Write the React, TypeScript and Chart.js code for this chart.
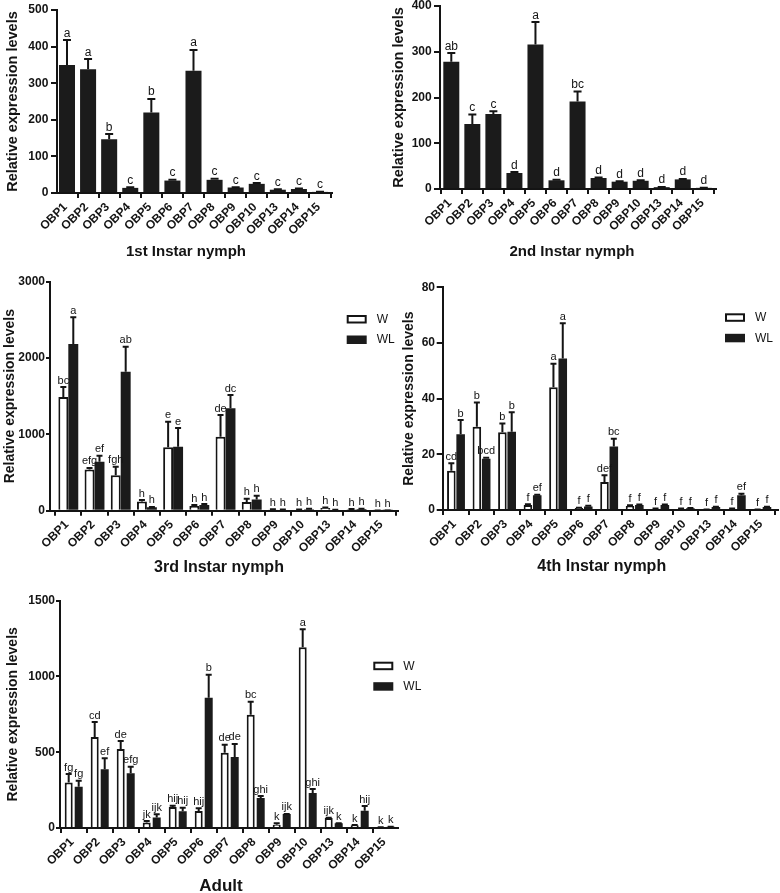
import React, { useEffect, useRef } from 'react';
import { Chart, registerables } from 'chart.js';

Chart.register(...registerables);

const FONT = '"Liberation Sans", Arial, Helvetica, sans-serif';
const INK = '#141414';
Chart.defaults.font.family = FONT;
Chart.defaults.color = INK;

const categories = ['OBP1', 'OBP2', 'OBP3', 'OBP4', 'OBP5', 'OBP6', 'OBP7', 'OBP8', 'OBP9', 'OBP10', 'OBP13', 'OBP14', 'OBP15'];

const nymph1Mean = [350, 338, 147, 14, 220, 34, 334, 36, 15, 25, 9, 11, 3];
const nymph1Se = [68, 28, 14, 2, 37, 2, 57, 3, 1, 2, 1, 1, 0.5];
const nymph1Letters = ['a', 'a', 'b', 'c', 'b', 'c', 'a', 'c', 'c', 'c', 'c', 'c', 'c'];

const nymph2Mean = [278, 142, 164, 35, 316, 19, 191, 24, 16, 18, 4, 21, 2.5];
const nymph2Se = [19, 21, 6, 2, 49, 1, 22, 1, 1, 1, 0.5, 1, 0.5];
const nymph2Letters = ['ab', 'c', 'c', 'd', 'a', 'd', 'bc', 'd', 'd', 'd', 'd', 'd', 'd'];

const nymph3W = [1489, 541, 463, 122, 830, 61, 969, 114, 16, 12, 35, 18, 2];
const nymph3WSe = [131, 19, 113, 18, 336, 13, 284, 43, 4, 4, 6, 4, 1];
const nymph3WLetters = ['bc', 'efg', 'fgh', 'h', 'e', 'h', 'de', 'h', 'h', 'h', 'h', 'h', 'h'];
const nymph3WL = [2183, 642, 1821, 44, 838, 74, 1341, 148, 14, 20, 12, 22, 3];
const nymph3WLSe = [350, 78, 327, 6, 245, 13, 174, 49, 3, 4, 2, 4, 1];
const nymph3WLLetters = ['a', 'ef', 'ab', 'h', 'e', 'h', 'dc', 'h', 'h', 'h', 'h', 'h', 'h'];

const nymph4W = [14.1, 29.9, 27.9, 1.8, 44.1, 0.7, 10.1, 1.4, 0.4, 0.4, 0.1, 0.4, 0.1];
const nymph4WSe = [2.7, 8.7, 3.2, 0.3, 8.4, 0.1, 2.4, 0.3, 0.1, 0.1, 0.05, 0.1, 0.05];
const nymph4WLetters = ['cd', 'b', 'b', 'f', 'a', 'f', 'def', 'f', 'f', 'f', 'f', 'f', 'f'];
const nymph4WL = [27.2, 18.4, 28.1, 5.3, 54.4, 1.3, 22.8, 1.8, 1.8, 0.6, 1.1, 5.3, 1.1];
const nymph4WLSe = [5.1, 0.4, 7.0, 0.2, 12.7, 0.2, 2.8, 0.2, 0.2, 0.1, 0.1, 0.5, 0.1];
const nymph4WLLetters = ['b', 'bcd', 'b', 'ef', 'a', 'f', 'bc', 'f', 'f', 'f', 'f', 'ef', 'f'];

const adultW = [301, 600, 521, 37, 139, 112, 496, 747, 22, 1192, 66, 18, 4];
const adultWSe = [55, 99, 53, 9, 8, 18, 53, 86, 9, 119, 2, 1, 0.5];
const adultWLetters = ['fg', 'cd', 'de', 'jk', 'hij', 'hij', 'de', 'bc', 'k', 'a', 'ijk', 'k', 'k'];
const adultWL = [273, 387, 361, 70, 110, 859, 469, 198, 92, 231, 31, 114, 8];
const adultWLSe = [39, 73, 44, 20, 24, 152, 86, 13, 1, 26, 1, 31, 0.5];
const adultWLLetters = ['fg', 'ef', 'efg', 'ijk', 'hij', 'b', 'de', 'ghi', 'ijk', 'ghi', 'k', 'hij', 'k'];

const yAxisMax = [500, 400, 3000, 80, 1500];
const yAxisStep = [100, 100, 1000, 20, 500];
const panelTitles = ['1st Instar nymph', '2nd Instar nymph', '3rd Instar nymph', '4th Instar nymph', 'Adult'];
const yAxisTitle = 'Relative expression levels';
const seriesNames = ['W', 'WL'];

type Series = { name: string; mean: number[]; se: number[]; letters: string[]; open: boolean };

const single = (mean: number[], se: number[], letters: string[]): Series[] => [
  { name: '', mean, se, letters, open: false },
];
const pair = (w: number[], wse: number[], wl: string[], l: number[], lse: number[], ll: string[]): Series[] => [
  { name: seriesNames[0], mean: w, se: wse, letters: wl, open: true },
  { name: seriesNames[1], mean: l, se: lse, letters: ll, open: false },
];

const panels = [
  {
    box: { left: 0, top: 0, width: 390, height: 262 },
    area: { left: 57, right: 332, top: 10, bottom: 193 },
    xMin: -0.474, xMax: 12.569, catPct: 0.76, barPct: 1,
    titlePos: { x: 186, y: 252 }, titleSize: 15, yTitleSize: 14.5, yTitlePad: 4.6,
    yTickLen: 6, yTickPad: 2.7,
    letterSize: 12, cap: 8, legend: null,
    series: single(nymph1Mean, nymph1Se, nymph1Letters),
  },
  {
    box: { left: 390, top: 0, width: 390, height: 262 },
    area: { left: 440, right: 716, top: 6, bottom: 189 },
    xMin: -0.537, xMax: 12.58, catPct: 0.76, barPct: 1,
    titlePos: { x: 182, y: 252 }, titleSize: 15, yTitleSize: 14.5, yTitlePad: 0.3,
    yTickLen: 6, yTickPad: 2.3,
    letterSize: 12, cap: 8, legend: null,
    series: single(nymph2Mean, nymph2Se, nymph2Letters),
  },
  {
    box: { left: 0, top: 262, width: 400, height: 318 },
    area: { left: 50, right: 398, top: 281.7, bottom: 510.7 },
    xMin: -0.699, xMax: 12.584, catPct: 0.76, barPct: 1,
    titlePos: { x: 219, y: 306 }, titleSize: 16, yTitleSize: 14, yTitlePad: 1.3,
    yTickLen: 4, yTickPad: 1,
    letterSize: 11, cap: 6, legend: { x: 346.7, y: 53 },
    series: pair(nymph3W, nymph3WSe, nymph3WLetters, nymph3WL, nymph3WLSe, nymph3WLLetters),
  },
  {
    box: { left: 400, top: 262, width: 380, height: 318 },
    area: { left: 442.7, right: 778, top: 287.3, bottom: 510 },
    xMin: -0.521, xMax: 12.615, catPct: 0.73, barPct: 0.92,
    titlePos: { x: 201.7, y: 305 }, titleSize: 16, yTitleSize: 14, yTitlePad: 0.6,
    yTickLen: 6, yTickPad: 1.7,
    letterSize: 11, cap: 6, legend: { x: 325, y: 51.3 },
    series: pair(nymph4W, nymph4WSe, nymph4WLetters, nymph4WL, nymph4WLSe, nymph4WLLetters),
  },
  {
    box: { left: 0, top: 580, width: 440, height: 313 },
    area: { left: 60, right: 398, top: 600.7, bottom: 828 },
    xMin: -0.527, xMax: 12.473, catPct: 0.77, barPct: 0.8,
    titlePos: { x: 221, y: 306 }, titleSize: 17, yTitleSize: 14, yTitlePad: 4.9,
    yTickLen: 4, yTickPad: 1,
    letterSize: 11, cap: 6, legend: { x: 373.3, y: 81.7 },
    series: pair(adultW, adultWSe, adultWLetters, adultWL, adultWLSe, adultWLLetters),
  },
];

function BarPanel({ cfg, index }: { cfg: any; index: number }) {
  const ref = useRef<HTMLCanvasElement>(null);
  useEffect(() => {
    const canvas = ref.current;
    if (!canvas) return;
    const { box, area } = cfg;
    const yW = area.left - box.left;
    const xH = box.top + box.height - area.bottom;

    const datasets = cfg.series.map((s: Series) => ({
      label: s.name,
      data: s.mean.map((v, i) => ({ x: i, y: v })),
      backgroundColor: s.open ? '#ffffff' : '#1b1b1b',
      borderColor: INK,
      borderWidth: s.open ? 2 : 0,
      borderSkipped: 'start',
      categoryPercentage: cfg.catPct,
      barPercentage: cfg.barPct,
      se: s.se,
      letters: s.letters,
    }));

    const overlay = {
      id: 'overlay' + index,
      afterDatasetsDraw(chart: any) {
        const ctx = chart.ctx;
        const ys = chart.scales.y;
        ctx.save();
        ctx.strokeStyle = INK;
        ctx.fillStyle = INK;
        ctx.lineWidth = 2;
        ctx.font = `${cfg.letterSize}px ${FONT}`;
        ctx.textAlign = 'center';
        ctx.textBaseline = 'alphabetic';
        chart.data.datasets.forEach((ds: any, di: number) => {
          const meta = chart.getDatasetMeta(di);
          meta.data.forEach((el: any, i: number) => {
            const topVal = ds.data[i].y + ds.se[i];
            const yTop = ys.getPixelForValue(topVal);
            ctx.beginPath();
            ctx.moveTo(el.x, el.y);
            ctx.lineTo(el.x, yTop);
            ctx.moveTo(el.x - cfg.cap / 2, yTop);
            ctx.lineTo(el.x + cfg.cap / 2, yTop);
            ctx.stroke();
            ctx.fillText(ds.letters[i], el.x, yTop - 3.5);
          });
        });
        ctx.restore();
      },
      afterDraw(chart: any) {
        const ctx = chart.ctx;
        ctx.save();
        ctx.fillStyle = INK;
        ctx.font = `bold ${cfg.titleSize}px ${FONT}`;
        ctx.textAlign = 'center';
        ctx.textBaseline = 'middle';
        ctx.fillText(panelTitles[index], cfg.titlePos.x, cfg.titlePos.y);
        if (cfg.legend) {
          cfg.series.forEach((s: Series, k: number) => {
            const bx = cfg.legend.x;
            const by = cfg.legend.y + k * 20.5;
            if (s.open) {
              ctx.fillStyle = '#fff';
              ctx.fillRect(bx, by, 20, 8.5);
              ctx.strokeStyle = INK;
              ctx.lineWidth = 2;
              ctx.strokeRect(bx + 1, by + 1, 18, 6.5);
            } else {
              ctx.fillStyle = '#1b1b1b';
              ctx.fillRect(bx, by, 20, 8.5);
            }
            ctx.fillStyle = INK;
            ctx.font = `12px ${FONT}`;
            ctx.textAlign = 'left';
            ctx.textBaseline = 'middle';
            ctx.fillText(s.name, bx + 30, by + 4.5);
          });
        }
        ctx.restore();
      },
    };

    const zeroPad = (scale: any) => {
      scale.paddingLeft = 0;
      scale.paddingRight = 0;
      scale.paddingTop = 0;
      scale.paddingBottom = 0;
    };

    const chart = new Chart(canvas, {
      type: 'bar',
      data: { datasets },
      options: {
        responsive: false,
        animation: false,
        devicePixelRatio: 1,
        layout: {
          padding: {
            left: 0,
            top: area.top - box.top,
            right: box.left + box.width - area.right,
            bottom: 0,
          },
        },
        plugins: { legend: { display: false }, tooltip: { enabled: false } },
        scales: {
          x: {
            type: 'linear',
            min: cfg.xMin,
            max: cfg.xMax,
            bounds: 'data',
            offset: false,
            grid: { drawOnChartArea: false, drawTicks: true, tickLength: 5, color: INK, lineWidth: 2 },
            border: { display: true, color: INK, width: 2, z: 1 },
            ticks: {
              stepSize: 1,
              autoSkip: false,
              minRotation: 45,
              maxRotation: 45,
              padding: 2,
              labelOffset: -1.5,
              color: INK,
              font: { family: FONT, size: 12, weight: 'bold' },
              callback: (v: any) => categories[Math.round(v)] ?? '',
            },
            afterBuildTicks: (scale: any) => {
              scale.ticks = categories.map((_, i) => ({ value: i }));
            },
            title: { display: false },
            afterFit: (scale: any) => {
              scale.height = xH;
              zeroPad(scale);
            },
          },
          y: {
            min: 0,
            max: yAxisMax[index],
            grid: { drawOnChartArea: false, drawTicks: true, tickLength: cfg.yTickLen, color: INK, lineWidth: 2 },
            border: { display: true, color: INK, width: 2, z: 1 },
            ticks: {
              stepSize: yAxisStep[index],
              padding: cfg.yTickPad,
              color: INK,
              font: { family: FONT, size: 12, weight: 'bold' },
              callback: (v: any) => String(v),
            },
            title: {
              display: true,
              text: yAxisTitle,
              color: INK,
              font: { family: FONT, size: cfg.yTitleSize, weight: 'bold' },
              padding: { top: cfg.yTitlePad, bottom: 0 },
            },
            afterFit: (scale: any) => {
              scale.width = yW;
              zeroPad(scale);
            },
          },
        },
      } as any,
      plugins: [overlay],
    });
    return () => chart.destroy();
  }, [cfg, index]);

  const { box } = cfg;
  return (
    <canvas
      ref={ref}
      width={box.width}
      height={box.height}
      style={{ position: 'absolute', left: box.left, top: box.top, width: box.width, height: box.height }}
    />
  );
}

export default function App() {
  return (
    <div style={{ position: 'absolute', left: 0, top: 0, width: 780, height: 893, background: '#fff', overflow: 'hidden' }}>
      {panels.map((p, i) => (
        <BarPanel key={i} cfg={p} index={i} />
      ))}
    </div>
  );
}
